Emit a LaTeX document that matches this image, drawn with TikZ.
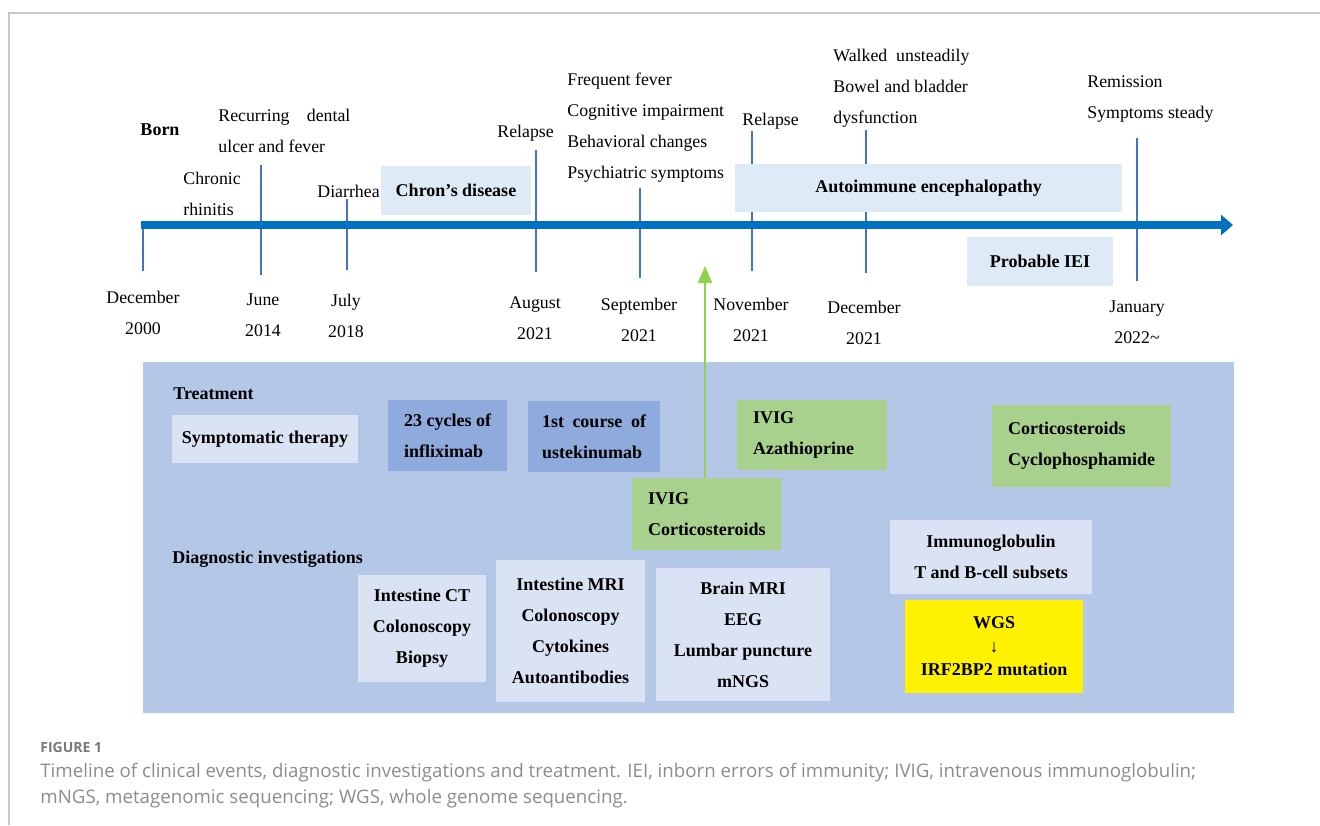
\documentclass[tikz,border=0pt]{standalone}
\usepackage{fontspec}
\setmainfont{Liberation Serif}
\newfontfamily\capfont{Open Sans}
\usetikzlibrary{arrows.meta}
\definecolor{tlblue}{RGB}{0,112,192}
\definecolor{tickblue}{RGB}{68,114,196}
\definecolor{lightbox}{RGB}{222,235,247}
\definecolor{panelblue}{RGB}{180,199,231}
\definecolor{palebox}{RGB}{218,227,243}
\definecolor{midblue}{RGB}{143,170,220}
\definecolor{greenbox}{RGB}{169,209,142}
\definecolor{arrowgreen}{RGB}{146,208,80}
\definecolor{framegray}{RGB}{200,200,200}
\definecolor{capgray}{RGB}{140,140,140}
\definecolor{figgray}{RGB}{120,120,120}
\begin{document}
\begin{tikzpicture}[x=0.5pt,y=-0.5pt,
  lbl/.style={font=\fontsize{8.9}{15.5}\selectfont, inner sep=0pt, align=left},
  datelbl/.style={lbl, align=center},
  boldlbl/.style={font=\fontsize{9}{15.5}\selectfont\bfseries, inner sep=0pt},
  bandbox/.style={fill=lightbox, inner sep=0pt, font=\fontsize{9}{15.5}\selectfont\bfseries},
  palebx/.style={fill=palebox, inner sep=0pt, align=center, font=\fontsize{9}{15.5}\selectfont\bfseries},
  midbx/.style={fill=midblue, inner sep=0pt, align=left, font=\fontsize{9}{15.5}\selectfont\bfseries},
  greenbx/.style={fill=greenbox, inner xsep=8pt, inner ysep=0pt, align=left, font=\fontsize{9}{15.5}\selectfont\bfseries},
  tickln/.style={draw=tickblue, line width=1.2pt},
  caption/.style={font=\capfont\fontsize{9.35}{11}\selectfont, text=capgray, inner sep=0pt, anchor=west}
]
\useasboundingbox (0,0) rectangle (1320,825);
% frame
\coordinate (f1) at (1320,13);
\coordinate (f2) at (9,13);
\coordinate (f3) at (9,825);
\draw[framegray, line width=0.6pt] (f1) -- (f2) -- (f3);

% ticks
\foreach \n/\x/\ya/\yb in {1/143/225/271, 2/261/165/275, 3/347/199/270, 4/536/150/272, 5/640/188/278, 6/752/131/271, 7/866/130/273, 8/1137/138/281}{
  \coordinate (ta\n) at (\x,\ya);
  \coordinate (tb\n) at (\x,\yb);
  \draw[tickln] (ta\n) -- (tb\n);
}

% timeline
\coordinate (tlstart) at (141,225);
\coordinate (tlend) at (1233,225);
\draw[tlblue, line width=4pt, -{Triangle[width=10pt,length=6pt]}] (tlstart) -- (tlend);

% bands on timeline
\node[bandbox, minimum width=75pt, minimum height=24.5pt] (chron) at (456,190.5) {Chron’s disease};
\node[bandbox, minimum width=193.5pt, minimum height=24pt] (auto) at (928.5,188) {Autoimmune encephalopathy};
\node[bandbox, minimum width=73pt, minimum height=24.5pt] (iei) at (1040,261.5) {Probable IEI};

% top labels
\node[boldlbl] (born) at (160,130) {Born};
\node[lbl, anchor=west] (rec) at (218,130.5) {\makebox[66pt][s]{Recurring dental}\\ulcer and fever};
\node[lbl, anchor=west] (chr) at (183,194) {Chronic\\rhinitis};
\node[lbl, anchor=west] (dia) at (317,191) {Diarrhea};
\node[lbl, anchor=west] (rel1) at (497,133) {Relapse};
\node[lbl, anchor=west] (freq) at (567,127.5) {Frequent fever\\Cognitive impairment\\Behavioral changes\\Psychiatric symptoms};
\node[lbl, anchor=west] (rel2) at (742,121) {Relapse};
\node[lbl, anchor=west] (walk) at (833,88) {Walked\ \ unsteadily\\Bowel and bladder\\dysfunction};
\node[lbl, anchor=west] (rem) at (1087,99.5) {Remission\\Symptoms steady};

% dates
\node[datelbl] (d1) at (143,312.5) {December\\2000};
\node[datelbl] (d2) at (263,315.5) {June\\2014};
\node[datelbl] (d3) at (346,315.5) {July\\2018};
\node[datelbl] (d4) at (535,318.5) {August\\2021};
\node[datelbl] (d5) at (639,320) {September\\2021};
\node[datelbl] (d6) at (751,320) {November\\2021};
\node[datelbl] (d7) at (864,322.5) {December\\2021};
\node[datelbl] (d8) at (1137,322.5) {January\\2022\textasciitilde};

% panel
\node[fill=panelblue, inner sep=0pt, minimum width=545.5pt, minimum height=175.5pt] (panel) at (688.5,537.5) {};
\node[boldlbl, anchor=west] (treat) at (173,394) {Treatment};
\node[boldlbl, anchor=west] (diag) at (172,559) {Diagnostic investigations};

% treatment boxes
\node[palebx, minimum width=93pt, minimum height=24pt] (symp) at (265,439) {Symptomatic therapy};
\node[midbx, minimum width=59.5pt, minimum height=35.5pt] (infl) at (447.5,435.5) {23 cycles of\\infliximab};
\node[midbx, minimum width=66pt, minimum height=35.5pt] (uste) at (594,436.5) {\makebox[52pt][s]{1st course of}\\ustekinumab};
\node[greenbx, text width=59pt, minimum height=35pt] (ivaz) at (812,435) {IVIG\\Azathioprine};
\node[greenbx, text width=58.5pt, minimum height=36pt] (ivco) at (706.5,514) {IVIG\\Corticosteroids};
\node[greenbx, text width=73.5pt, minimum height=41pt] (cocy) at (1081.5,445.5) {Corticosteroids\\Cyclophosphamide};

% diagnostic boxes
\node[palebx, minimum width=64pt, minimum height=53.5pt] (ct) at (422,628.5) {Intestine CT\\Colonoscopy\\Biopsy};
\node[palebx, minimum width=74.5pt, minimum height=71pt] (mri) at (570.5,631) {Intestine MRI\\Colonoscopy\\Cytokines\\Autoantibodies};
\node[palebx, minimum width=87pt, minimum height=66.5pt] (brain) at (743,634.5) {Brain MRI\\EEG\\Lumbar puncture\\mNGS};
\node[palebx, minimum width=101pt, minimum height=37pt] (immu) at (991,557) {Immunoglobulin\\T and B-cell subsets};
\node[palebx, fill=yellow, minimum width=89pt, minimum height=46.5pt, font=\fontsize{9}{11.75}\selectfont\bfseries] (wgs) at (994,646.5) {WGS\\↓\\IRF2BP2 mutation};

% green arrow
\coordinate (gtip) at (705,266);
\draw[arrowgreen, line width=1pt, -{Triangle[width=7pt,length=8.5pt]}] (ivco.north -| gtip) -- (gtip);

% caption
\node[caption, font=\capfont\bfseries\fontsize{7}{8}\selectfont, text=figgray] (fig) at (40,747) {FIGURE 1};
\node[caption] (cap1) at (40,773) {Timeline of clinical events, diagnostic investigations and treatment. IEI, inborn errors of immunity; IVIG, intravenous immunoglobulin;};
\node[caption] (cap2) at (40,799) {mNGS, metagenomic sequencing; WGS, whole genome sequencing.};
\end{tikzpicture}
\end{document}
